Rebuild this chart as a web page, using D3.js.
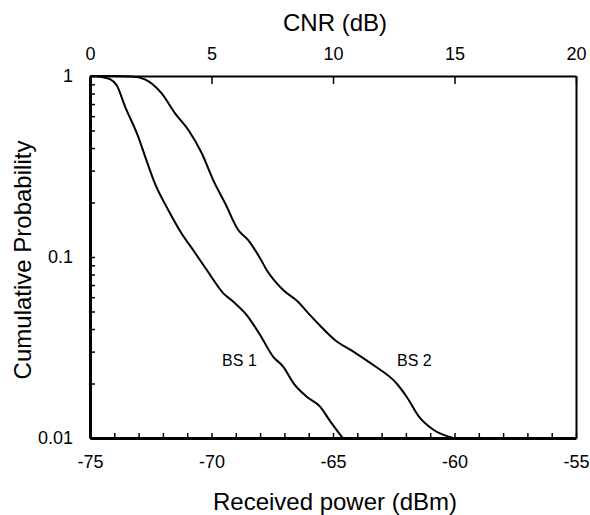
<!DOCTYPE html>
<html>
<head>
  <meta charset="UTF-8">
  <title>CNR cumulative probability</title>
  <script src="https://d3js.org/d3.v7.min.js"></script>
  <style>
    body { margin: 0; background: #fff; }
    text { font-family: "Liberation Sans", Arial, sans-serif; fill: #000; }
    .axis path, .axis line { stroke: #000; }
  </style>
</head>
<body>
  <script>
    // received power (dBm) and cumulative probability
    var bs1Power = [-75, -74.59, -74.18, -73.90, -73.56, -73.01, -72.67, -72.33, -71.78, -71.23, -70.75,
      -70.20, -69.51, -69.10, -68.55, -68.00, -67.46, -67.05, -66.63, -66.08, -65.53, -65.12, -64.6];
    var bs1Prob = [1, 0.99, 0.96, 0.89, 0.68, 0.46, 0.34, 0.255, 0.182, 0.135, 0.109,
      0.085, 0.063, 0.0566, 0.0478, 0.0371, 0.0281, 0.0248, 0.0201, 0.0169, 0.0149, 0.0124, 0.01];

    var bs2Power = [-75, -74, -73.28, -72.74, -72.05, -71.50, -70.95, -70.40, -69.93, -69.44, -68.90,
      -68.49, -68.00, -67.73, -67.05, -66.44, -66.03, -65.49, -64.92, -64.16, -63.34, -62.38, -61.97,
      -61.42, -60.87, -60.05];
    var bs2Prob = [1, 1, 0.995, 0.959, 0.802, 0.622, 0.503, 0.374, 0.266, 0.198, 0.141,
      0.124, 0.0984, 0.0848, 0.0657, 0.0566, 0.0491, 0.0412, 0.0348, 0.0300, 0.0253, 0.0200, 0.0169,
      0.0129, 0.0111, 0.0100];

    var seriesLabels = ["BS 1", "BS 2"];
    var labelPos = [[-68.85, 0.025], [-61.65, 0.025]];   // [dBm, prob] where the labels sit

    var powerTicks = [-75, -70, -65, -60, -55];
    var cnrTicks = [0, 5, 10, 15, 20];
    var probLabels = [1, 0.1, 0.01];

    var width = 590, height = 515;
    var mLeft = 90, mRight = 576, mTop = 76, mBottom = 438;

    var svg = d3.select("body").append("svg")
      .attr("width", width)
      .attr("height", height);

    var x = d3.scaleLinear().domain([-75, -55]).range([mLeft, mRight]);
    var xTop = d3.scaleLinear().domain([0, 20]).range([mLeft, mRight]);
    var y = d3.scaleLog().domain([0.01, 1]).range([mBottom, mTop]);

    // minor ticks every 1 dBm, labels every 5
    var xAxis = d3.axisBottom(x)
      .tickValues(d3.range(-75, -54))
      .tickSize(-5)
      .tickSizeOuter(0)
      .tickPadding(17)
      .tickFormat(function (d) { return powerTicks.indexOf(d) >= 0 ? d : ""; });

    var yTicks = [];
    [0.01, 0.1].forEach(function (dec) {
      for (var k = 1; k < 10; k++) yTicks.push(+(dec * k).toFixed(3));
    });
    yTicks.push(1);

    var yAxis = d3.axisLeft(y)
      .tickValues(yTicks)
      .tickSize(-5)
      .tickSizeOuter(0)
      .tickPadding(17)
      .tickFormat(function (d) { return probLabels.indexOf(d) >= 0 ? String(d) : ""; });

    var topAxis = d3.axisTop(xTop)
      .tickValues(cnrTicks)
      .tickSize(-8)
      .tickSizeOuter(0)
      .tickPadding(16);

    var rightAxis = d3.axisRight(y).tickValues([]).tickSizeOuter(0);

    var gx = svg.append("g").attr("class", "axis")
      .attr("transform", "translate(0," + mBottom + ")").call(xAxis);
    var gy = svg.append("g").attr("class", "axis")
      .attr("transform", "translate(" + mLeft + ",0)").call(yAxis);
    var gt = svg.append("g").attr("class", "axis")
      .attr("transform", "translate(0," + mTop + ")").call(topAxis);
    var gr = svg.append("g").attr("class", "axis")
      .attr("transform", "translate(" + mRight + ",0)").call(rightAxis);

    gx.select(".domain").attr("stroke-width", 3);
    gy.select(".domain").attr("stroke-width", 3);
    gt.select(".domain").attr("stroke-width", 2);
    gr.select(".domain").attr("stroke-width", 2);
    svg.selectAll(".axis .tick line").attr("stroke-width", 1.5);
    svg.selectAll(".axis text").attr("font-size", 18).attr("font-family", "Liberation Sans, Arial, sans-serif");

    var line = d3.line()
      .x(function (d) { return x(d[0]); })
      .y(function (d) { return y(d[1]); })
      .curve(d3.curveMonotoneX);

    var series = [d3.zip(bs1Power, bs1Prob), d3.zip(bs2Power, bs2Prob)];

    svg.selectAll(".curve")
      .data(series)
      .enter()
      .append("path")
      .attr("class", "curve")
      .attr("d", line)
      .attr("fill", "none")
      .attr("stroke", "#000")
      .attr("stroke-width", 2);

    svg.selectAll(".series-label")
      .data(seriesLabels)
      .enter()
      .append("text")
      .attr("class", "series-label")
      .attr("x", function (d, i) { return x(labelPos[i][0]); })
      .attr("y", function (d, i) { return y(labelPos[i][1]); })
      .attr("text-anchor", "middle")
      .attr("font-size", 16)
      .text(function (d) { return d; });

    // axis titles
    svg.append("text")
      .attr("x", (mLeft + mRight) / 2 + 2)
      .attr("y", 31)
      .attr("text-anchor", "middle")
      .attr("font-size", 24)
      .text("CNR (dB)");

    svg.append("text")
      .attr("x", (mLeft + mRight) / 2 + 2)
      .attr("y", 510)
      .attr("text-anchor", "middle")
      .attr("font-size", 24)
      .text("Received power (dBm)");

    svg.append("text")
      .attr("transform", "translate(31," + ((mTop + mBottom) / 2 + 3) + ") rotate(-90)")
      .attr("text-anchor", "middle")
      .attr("font-size", 24)
      .text("Cumulative Probability");
  </script>
</body>
</html>
